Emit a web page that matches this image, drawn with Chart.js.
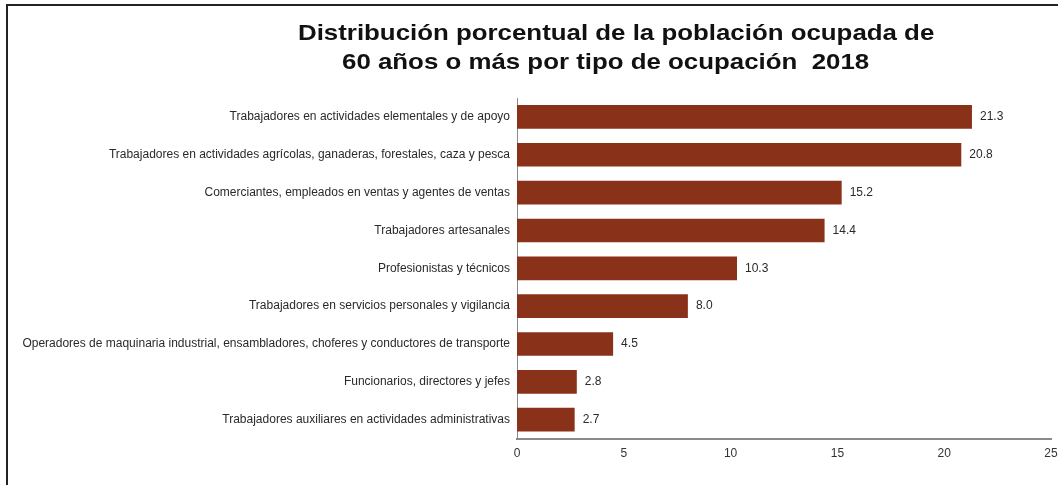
<!DOCTYPE html>
<html>
<head>
<meta charset="utf-8">
<script src="https://cdn.jsdelivr.net/npm/chart.js@4.4.0/dist/chart.umd.min.js"></script>
<style>
  html, body { margin: 0; padding: 0; background: #fff; }
  #frame {
    position: absolute; left: 6px; top: 4px; width: 1052px; height: 481px;
    border-left: 2px solid #222; border-top: 2px solid #222;
  }
  #wrap { position: absolute; left: 0; top: 0; width: 1058px; height: 485px; }
  .titulo {
    position: absolute; white-space: pre;
    font-family: 'Liberation Sans', Arial, sans-serif; font-weight: bold;
    font-size: 22px; line-height: 22px; color: #111;
    transform: scaleX(1.175); transform-origin: left top;
  }
</style>
</head>
<body>
<div id="frame"></div>
<div id="wrap"><canvas id="myChart"></canvas></div>
<div class="titulo" id="t1" style="left:298px; top:22px;"></div>
<div class="titulo" id="t2" style="left:342px; top:51px;"></div>
<script>
// categories and values
var categorias = [
    "Trabajadores en actividades elementales y de apoyo",
    "Trabajadores en actividades agrícolas, ganaderas, forestales, caza y pesca",
    "Comerciantes, empleados en ventas y agentes de ventas",
    "Trabajadores artesanales",
    "Profesionistas y técnicos",
    "Trabajadores en servicios personales y vigilancia",
    "Operadores de maquinaria industrial, ensambladores, choferes y conductores de transporte",
    "Funcionarios, directores y jefes",
    "Trabajadores auxiliares en actividades administrativas"
];
var porcentajes = [21.3, 20.8, 15.2, 14.4, 10.3, 8.0, 4.5, 2.8, 2.7];
var ticksX = [0, 5, 10, 15, 20, 25];
var titulo = ["Distribución porcentual de la población ocupada de", "60 años o más por tipo de ocupación  2018"];

var colorBarra = "#8a3219";
var fuente = "'Liberation Sans', Arial, sans-serif";

document.getElementById("t1").textContent = titulo[0];
document.getElementById("t2").textContent = titulo[1];

// draws the value next to each bar
var etiquetas = {
    id: "etiquetas",
    afterDatasetsDraw: function(chart){
        var ctx = chart.ctx;
        var meta = chart.getDatasetMeta(0);
        ctx.save();
        ctx.font = "12px " + fuente;
        ctx.fillStyle = "#2a2a2a";
        ctx.textBaseline = "middle";
        ctx.textAlign = "left";
        for(var i = 0; i < meta.data.length; i++){
            var bar = meta.data[i];
            ctx.fillText(porcentajes[i].toFixed(1), bar.x + 8, bar.y);
        }
        ctx.restore();
    }
};

var ctx = document.getElementById("myChart").getContext("2d");
var chart = new Chart(ctx, {
    type: "bar",
    data: {
        labels: categorias,
        datasets: [{
            data: porcentajes,
            backgroundColor: colorBarra,
            borderWidth: 0,
            barPercentage: 0.625,
            categoryPercentage: 1.0
        }]
    },
    options: {
        indexAxis: "y",
        responsive: true,
        maintainAspectRatio: false,
        animation: false,
        layout: { padding: { left: 0, right: 0, top: 98, bottom: 20 } },
        plugins: {
            legend: { display: false },
            tooltip: { enabled: false },
            title: { display: false }
        },
        scales: {
            x: {
                min: 0,
                max: 25,
                afterBuildTicks: function(axis){
                    axis.ticks = ticksX.map(function(v){ return { value: v }; });
                },
                afterFit: function(axis){ axis.paddingRight = 7; axis.paddingLeft = 0; },
                grid: { display: false, drawTicks: true, tickLength: 4, tickColor: "#888" },
                border: { display: true, color: "#8a8a8a", width: 2 },
                ticks: {
                    color: "#333",
                    font: { family: fuente, size: 12 },
                    padding: 4,
                    maxRotation: 0
                }
            },
            y: {
                afterFit: function(axis){ axis.width = 517; },
                grid: { display: false, drawTicks: false },
                border: { display: true, color: "#8a8a8a", width: 1 },
                ticks: {
                    color: "#2a2a2a",
                    font: { family: fuente, size: 12 },
                    padding: 7,
                    autoSkip: false
                }
            }
        }
    },
    plugins: [etiquetas]
});
</script>
</body>
</html>
